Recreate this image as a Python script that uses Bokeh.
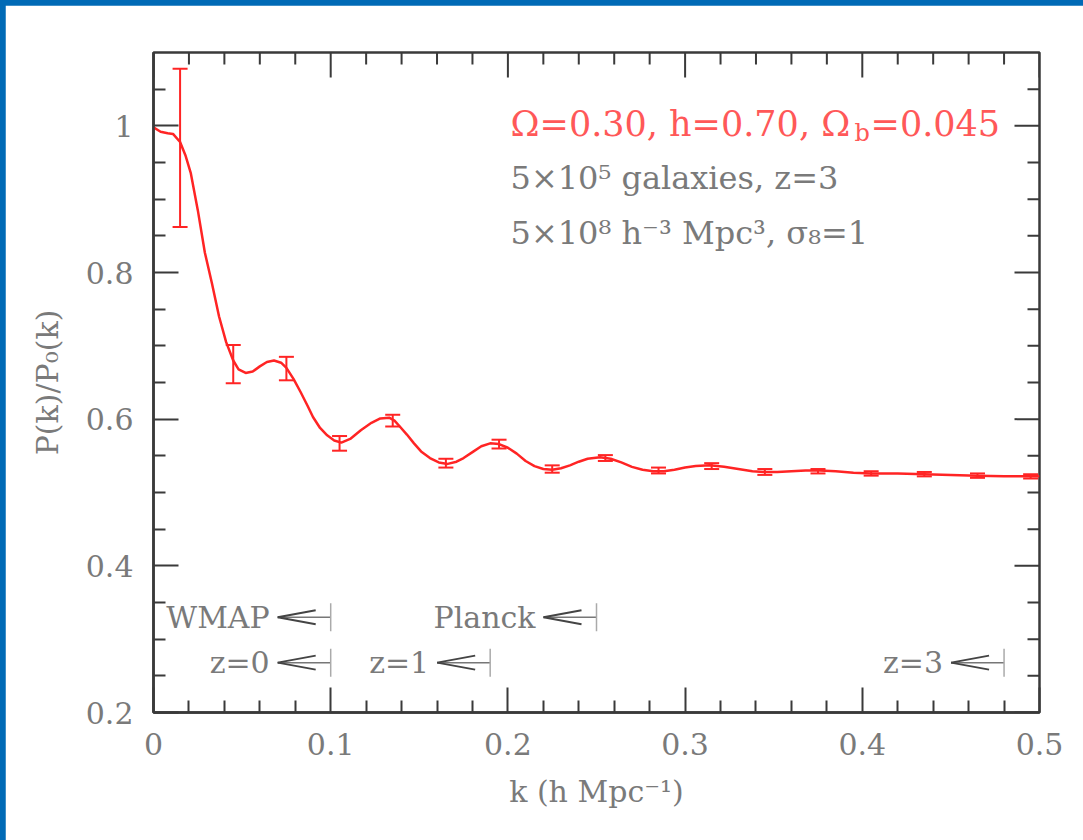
from bokeh.plotting import figure
from bokeh.models import (ColumnDataSource, Whisker, TeeHead, FixedTicker, Range1d)
from bokeh.layouts import column
from bokeh.embed import file_html
from bokeh.resources import INLINE
from bokeh.core.properties import value

# ---------------- data ----------------
curve_k = [0.000, 0.004, 0.008, 0.011, 0.015, 0.018, 0.021, 0.025, 0.029, 0.033,
           0.037, 0.041, 0.045, 0.048, 0.052, 0.056, 0.060, 0.064, 0.068, 0.072,
           0.075, 0.079, 0.083, 0.087, 0.090, 0.094, 0.098, 0.102, 0.106, 0.111,
           0.117, 0.123, 0.128, 0.133, 0.136, 0.139, 0.143, 0.147, 0.151, 0.156,
           0.161, 0.166, 0.171, 0.175, 0.180, 0.185, 0.190, 0.195, 0.200, 0.205,
           0.210, 0.215, 0.220, 0.225, 0.230, 0.235, 0.240, 0.245, 0.252, 0.258,
           0.264, 0.270, 0.276, 0.282, 0.288, 0.294, 0.300, 0.306, 0.314, 0.322,
           0.330, 0.338, 0.345, 0.352, 0.360, 0.368, 0.376, 0.385, 0.395, 0.405,
           0.420, 0.435, 0.450, 0.465, 0.480, 0.500]
curve_ratio = [0.998, 0.992, 0.990, 0.989, 0.978, 0.960, 0.936, 0.885, 0.827, 0.785,
               0.740, 0.705, 0.680, 0.668, 0.663, 0.665, 0.672, 0.678, 0.680, 0.677,
               0.670, 0.655, 0.637, 0.618, 0.603, 0.588, 0.578, 0.571, 0.568, 0.573,
               0.585, 0.595, 0.601, 0.602, 0.598, 0.590, 0.579, 0.567, 0.556, 0.547,
               0.541, 0.539, 0.542, 0.547, 0.555, 0.563, 0.567, 0.566, 0.561, 0.553,
               0.543, 0.536, 0.532, 0.531, 0.533, 0.537, 0.542, 0.546, 0.548, 0.546,
               0.541, 0.535, 0.531, 0.529, 0.529, 0.531, 0.534, 0.536, 0.537, 0.535,
               0.532, 0.529, 0.528, 0.528, 0.529, 0.530, 0.530, 0.529, 0.527, 0.526,
               0.526, 0.525, 0.524, 0.523, 0.522, 0.522]

bar_k = [0.015, 0.045, 0.075, 0.105, 0.135, 0.165, 0.195, 0.225, 0.255,
         0.285, 0.315, 0.345, 0.375, 0.405, 0.435, 0.465, 0.495]
bar_ratio = [0.970, 0.675, 0.669, 0.567, 0.598, 0.540, 0.566, 0.532, 0.547,
             0.530, 0.536, 0.528, 0.529, 0.526, 0.525, 0.523, 0.522]
bar_err = [0.108, 0.026, 0.016, 0.010, 0.008, 0.006, 0.006, 0.005, 0.004,
           0.004, 0.004, 0.004, 0.003, 0.003, 0.003, 0.003, 0.003]

x_major = [0.0, 0.1, 0.2, 0.3, 0.4, 0.5]
x_labels = ["0", "0.1", "0.2", "0.3", "0.4", "0.5"]
x_minor = [0.02, 0.04, 0.06, 0.08, 0.12, 0.14, 0.16, 0.18, 0.22, 0.24, 0.26, 0.28,
           0.32, 0.34, 0.36, 0.38, 0.42, 0.44, 0.46, 0.48]
y_major = [0.2, 0.4, 0.6, 0.8, 1.0]
y_labels = ["0.2", "0.4", "0.6", "0.8", "1"]
y_minor = [0.25, 0.3, 0.35, 0.45, 0.5, 0.55, 0.65, 0.7, 0.75, 0.85, 0.9, 0.95, 1.05]

limit_labels = ["WMAP", "Planck", "z=0", "z=1", "z=3"]
limit_k = [0.10, 0.25, 0.10, 0.19, 0.48]
limit_row = [0.330, 0.330, 0.268, 0.268, 0.268]

title_parts = ["Ω=0.30, h=0.70, Ω", "b", "=0.045"]
info_lines = ["5×10⁵ galaxies, z=3", "5×10⁸ h⁻³ Mpc³, σ₈=1"]

# ---------------- styling ----------------
FONT = "DejaVu Serif"
GRAY = "#7a7a7a"
DARK = "#3a3a3a"
RED = "#ff2424"
RED_TEXT = "#ff5858"

X0, X1, Y0, Y1 = 0.0, 0.5, 0.2, 1.1
FRAME_W, FRAME_H = 886, 660
kpx = (X1 - X0) / FRAME_W
ypx = (Y1 - Y0) / FRAME_H

p = figure(width=1078, height=835, x_range=Range1d(X0, X1), y_range=Range1d(Y0, Y1),
           output_backend="svg", toolbar_location=None,
           min_border_left=148, min_border_right=44, min_border_top=47, min_border_bottom=128,
           background_fill_color="white", border_fill_color="white")
p.grid.visible = False
p.outline_line_color = DARK
p.outline_line_width = 2.5

for ax in (p.xaxis[0], p.yaxis[0]):
    ax.major_tick_in = 25
    ax.major_tick_out = 0
    ax.minor_tick_in = 12
    ax.minor_tick_out = 0
    ax.major_tick_line_color = DARK
    ax.minor_tick_line_color = DARK
    ax.major_tick_line_width = 2
    ax.minor_tick_line_width = 2
    ax.axis_line_color = DARK
    ax.axis_line_width = 2.5
    ax.major_label_text_font = FONT
    ax.major_label_text_color = GRAY
    ax.major_label_text_font_size = "30px"
    ax.major_label_standoff = 20
    ax.axis_label_text_font = FONT
    ax.axis_label_text_color = GRAY
    ax.axis_label_text_font_style = "normal"
    ax.axis_label_text_font_size = "30px"

p.xaxis.ticker = FixedTicker(ticks=x_major, minor_ticks=x_minor)
p.yaxis.ticker = FixedTicker(ticks=y_major, minor_ticks=y_minor)
p.xaxis.major_label_overrides = {v: s for v, s in zip(x_major, x_labels)}
p.yaxis.major_label_overrides = {v: s for v, s in zip(y_major, y_labels)}
p.xaxis.axis_label = "k (h Mpc⁻¹)"
p.yaxis.axis_label = "P(k)/P₀(k)"
p.xaxis.axis_label_standoff = 16
p.yaxis.axis_label_standoff = 18

# inward ticks on the top and right frame edges
top_x = x_major + x_minor
top_len = [25 * ypx] * len(x_major) + [12 * ypx] * len(x_minor)
p.segment(x0=top_x, y0=[Y1] * len(top_x), x1=top_x, y1=[Y1 - d for d in top_len],
          line_color=DARK, line_width=2)
right_y = y_major + y_minor
right_len = [25 * kpx] * len(y_major) + [12 * kpx] * len(y_minor)
p.segment(x0=[X1] * len(right_y), y0=right_y, x1=[X1 - d for d in right_len], y1=right_y,
          line_color=DARK, line_width=2)

# curve
p.line(curve_k, curve_ratio, line_color=RED, line_width=2.5)

# error bars
bsrc = ColumnDataSource(dict(k=bar_k,
                             lo=[r - e for r, e in zip(bar_ratio, bar_err)],
                             hi=[r + e for r, e in zip(bar_ratio, bar_err)]))
p.add_layout(Whisker(source=bsrc, base="k", lower="lo", upper="hi", dimension="height",
                     line_color=RED, line_width=2,
                     upper_head=TeeHead(size=15, line_color=RED, line_width=2),
                     lower_head=TeeHead(size=15, line_color=RED, line_width=2)))

# limit arrows  "label <—|"
arrow_len = 53 * kpx
head_len = 38 * kpx
head_half = 7 * ypx
bar_half = 14 * ypx
tips = [k - arrow_len for k in limit_k]
p.segment(x0=tips, y0=limit_row, x1=limit_k, y1=limit_row, line_color="#777777", line_width=1.5)
p.segment(x0=tips, y0=limit_row, x1=[t + head_len for t in tips],
          y1=[r + head_half for r in limit_row], line_color="#444444", line_width=2)
p.segment(x0=tips, y0=limit_row, x1=[t + head_len for t in tips],
          y1=[r - head_half for r in limit_row], line_color="#444444", line_width=2)
p.segment(x0=limit_k, y0=[r - bar_half for r in limit_row], x1=limit_k,
          y1=[r + bar_half for r in limit_row], line_color="#aaaaaa", line_width=1.5)
p.text(x=tips, y=limit_row, text=limit_labels, x_offset=-8, text_align="right",
       text_baseline="middle", text_font=value(FONT), text_font_size="30px", text_color=GRAY)

# parameter text
tx = 0.2015
y_line1, y_line2, y_line3 = 1.003, 0.929, 0.854
p.text(x=[tx], y=[y_line1], text=[title_parts[0]], text_font=value(FONT),
       text_font_size="35px", text_color=RED_TEXT, text_baseline="alphabetic")
wA = 344
p.text(x=[tx], y=[y_line1], text=[title_parts[1]], x_offset=wA, y_offset=9, text_font=value(FONT),
       text_font_size="24px", text_color=RED_TEXT, text_baseline="alphabetic")
p.text(x=[tx], y=[y_line1], text=[title_parts[2]], x_offset=wA + 16, text_font=value(FONT),
       text_font_size="35px", text_color=RED_TEXT, text_baseline="alphabetic")
p.text(x=[tx, tx], y=[y_line2, y_line3], text=info_lines, text_font=value(FONT),
       text_font_size="32px", text_color=GRAY, text_baseline="alphabetic")

layout = column(p, styles={"padding-top": "5px", "padding-left": "5px",
                           "background-color": "#006ab6"})

open("out.html", "w").write(file_html(layout, INLINE))
